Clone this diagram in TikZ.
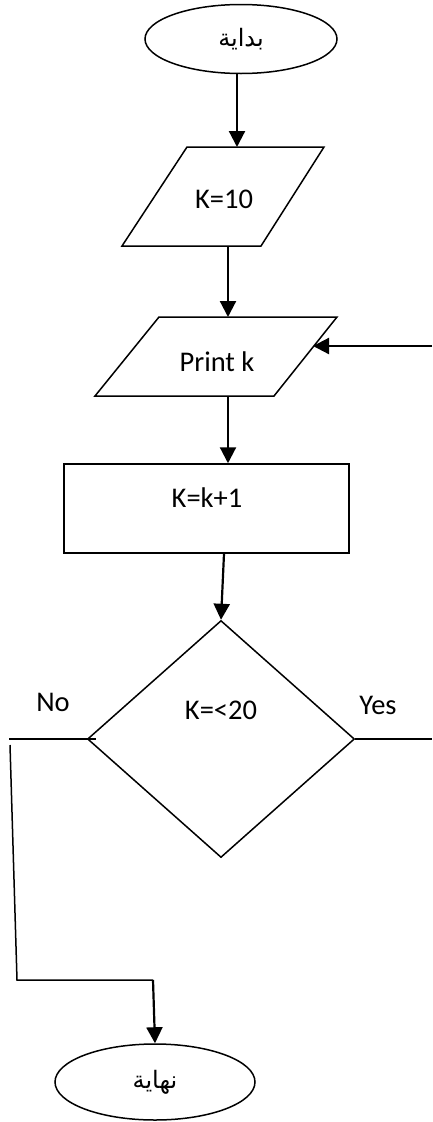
\documentclass[tikz,border=0pt]{standalone}
\usepackage{fontspec}
\setmainfont{Carlito}
\newfontfamily\arabicfont[Script=Arabic]{DejaVu Sans}
\TeXXeTstate=1
\usetikzlibrary{shapes.geometric,arrows.meta}
\begin{document}
\begin{tikzpicture}[x=1pt,y=-1pt,
  outline/.style={draw, line width=1.5pt},
  arr/.style={line width=2.2pt, -{Triangle[width=16pt,length=16pt]}},
  conn/.style={line width=1.5pt},
  txt/.style={font=\fontsize{28.5}{34}\selectfont, inner sep=0pt},
  atxt/.style={font=\arabicfont\fontsize{24}{29}\selectfont, inner sep=0pt}]
\useasboundingbox (0,0) rectangle (432,1122);

% start
\node[outline, ellipse, minimum width=192pt, minimum height=69pt, inner sep=0pt, atxt] (start) at (241,39) {\beginR بداية\endR};

% K=10 parallelogram
\coordinate (p1tl) at (187,147);
\coordinate (p1tr) at (324,147);
\coordinate (p1br) at (261,246);
\coordinate (p1bl) at (122,246);
\draw[outline] (p1tl) -- (p1tr) -- (p1br) -- (p1bl) -- cycle;
\node[txt] (k10) at (224,199) {K=10};
\coordinate (p1in) at (237,147);
\coordinate (p1out) at (228,246);

% Print k parallelogram
\coordinate (p2tl) at (159,317);
\coordinate (p2tr) at (337,317);
\coordinate (p2br) at (274,396);
\coordinate (p2bl) at (95,396);
\draw[outline] (p2tl) -- (p2tr) -- (p2br) -- (p2bl) -- cycle;
\node[txt] (print) at (217,362) {Print k};
\coordinate (p2in) at (228,317);
\coordinate (p2out) at (228,396);
\coordinate (p2side) at (313,346);
\coordinate (loopR) at (432,346);

% K=k+1 process
\node[outline, rectangle, minimum width=285pt, minimum height=89pt, inner sep=0pt] (inc) at (206.5,508.5) {};
\node[txt] (inclbl) at (207,498) {K=k+1};

% decision
\node[outline, diamond, minimum width=267pt, minimum height=237pt, inner sep=0pt] (dec) at (221,739) {};
\node[txt] (declbl) at (221,710) {K=<20};
\node[txt] (no) at (53,702) {No};
\node[txt] (yes) at (378,705) {Yes};
\coordinate (noL) at (9,739);
\coordinate (yesR) at (432,739);
\coordinate (vtop) at (10,745);
\coordinate (vbot) at (17,980);
\coordinate (elbow) at (153,980);

% end
\node[outline, ellipse, minimum width=200pt, minimum height=76pt, inner sep=0pt, atxt] (end) at (155,1082) {\beginR نهاية\endR};

% connectors
\draw[arr] (start.south -| p1in) -- (p1in);
\draw[arr] (p1out) -- (p2in);
\draw[arr] (loopR) -- (p2side);
\draw[arr] (p2out) -- (p2out |- inc.north);
\draw[arr] (inc.south -| dec.north) ++(3,0) -- (dec.north);
\draw[conn] (dec.west) ++(9,0) -- (noL);
\draw[conn] (dec.east) -- (yesR);
\draw[conn] (vtop) -- (vbot) -- (elbow);
\draw[arr] (elbow) -- (end.north);
\end{tikzpicture}
\end{document}
